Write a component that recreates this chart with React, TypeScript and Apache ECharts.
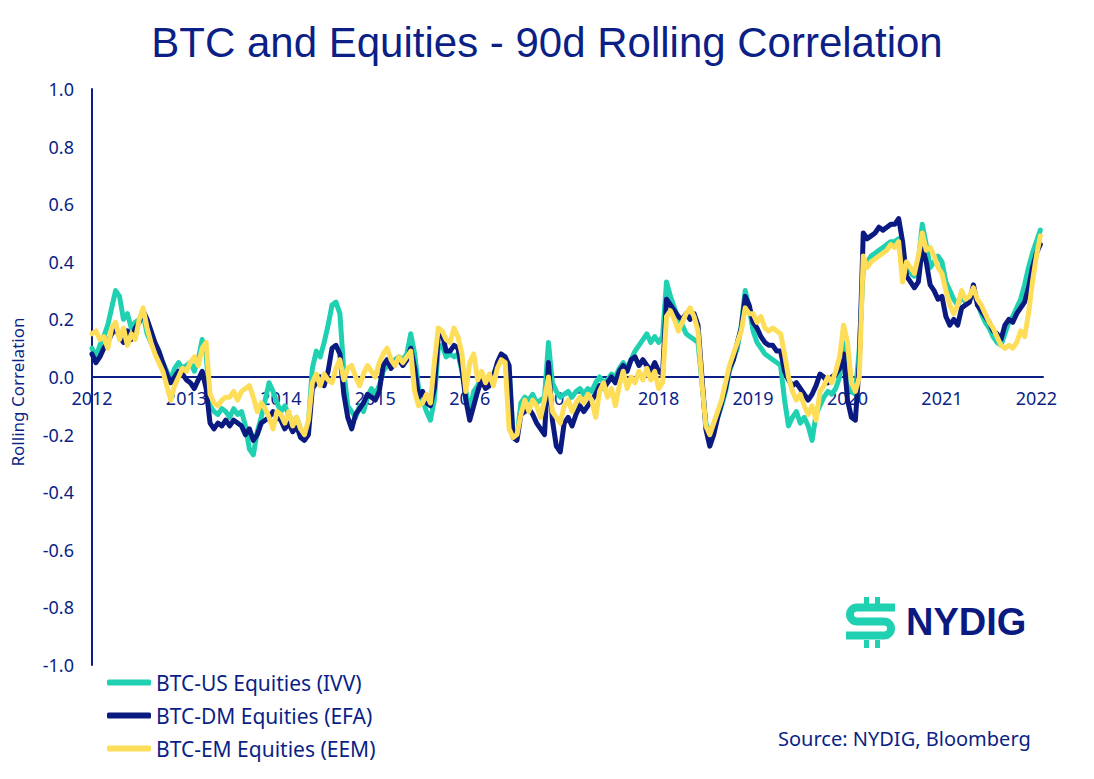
import React, { useEffect, useRef } from "react";
import * as echarts from "echarts";

const NAVY = "#0b1f86";
const TEAL = "#1fd0b1";
const DNAVY = "#0a1a80";
const YELLOW = "#fedd58";

const TITLE = "BTC and Equities - 90d Rolling Correlation";
const SERIES_NAMES = ["BTC-US Equities (IVV)", "BTC-DM Equities (EFA)", "BTC-EM Equities (EEM)"];
const YEAR_LABELS = [2012, 2013, 2014, 2015, 2016, 2017, 2018, 2019, 2020, 2021, 2022];
const START_YEAR = 2012;
const STEPS_PER_YEAR = 24; // semi-monthly observations

const usEquities = [
  // 2012
  0.10, 0.07, 0.11, 0.14, 0.18, 0.24, 0.30, 0.28, 0.20, 0.22, 0.17, 0.19, 0.20, 0.22, 0.15, 0.12, 0.09, 0.07, 0.05, 0.02, -0.01, 0.03, 0.05, 0.03,
  // 2013
  0.04, 0.05, 0.02, 0.06, 0.13, 0.08, -0.10, -0.12, -0.13, -0.11, -0.12, -0.14, -0.11, -0.13, -0.12, -0.17, -0.25, -0.27, -0.19, -0.14, -0.08, -0.02, -0.05, -0.09,
  // 2014
  -0.12, -0.10, -0.13, -0.16, -0.14, -0.18, -0.20, -0.16, 0.03, 0.09, 0.07, 0.12, 0.18, 0.25, 0.26, 0.22, 0.02, -0.10, -0.12, -0.14, -0.10, -0.12, -0.07, -0.04,
  // 2015
  -0.06, -0.03, 0.02, 0.04, 0.05, 0.06, 0.07, 0.06, 0.08, 0.15, 0.08, -0.04, -0.08, -0.12, -0.15, -0.08, 0.10, 0.11, 0.07, 0.08, 0.07, 0.08, 0.02, -0.05,
  // 2016
  -0.12, -0.05, -0.03, 0.00, -0.03, -0.02, 0.01, 0.04, 0.06, 0.05, 0.02, -0.20, -0.21, -0.09, -0.07, -0.08, -0.06, -0.09, -0.08, -0.07, 0.12, -0.02, -0.05, -0.07,
  // 2017
  -0.06, -0.05, -0.07, -0.05, -0.04, -0.06, -0.04, -0.05, -0.02, 0.00, -0.02, -0.01, 0.01, 0.00, 0.03, 0.05, 0.03, 0.06, 0.09, 0.11, 0.13, 0.15, 0.12, 0.14,
  // 2018
  0.12, 0.14, 0.33, 0.28, 0.24, 0.20, 0.18, 0.15, 0.14, 0.13, 0.12, -0.02, -0.16, -0.20, -0.18, -0.14, -0.10, -0.05, 0.02, 0.06, 0.10, 0.18, 0.30, 0.24,
  // 2019
  0.16, 0.12, 0.10, 0.08, 0.07, 0.06, 0.05, 0.04, -0.08, -0.17, -0.14, -0.12, -0.16, -0.14, -0.17, -0.22, -0.13, -0.10, -0.07, -0.05, -0.06, -0.04, 0.00, 0.12,
  // 2020
  0.05, -0.05, -0.06, 0.10, 0.38, 0.40, 0.42, 0.43, 0.44, 0.45, 0.46, 0.47, 0.47, 0.48, 0.40, 0.38, 0.36, 0.35, 0.40, 0.53, 0.46, 0.38, 0.40, 0.42,
  // 2021
  0.40, 0.33, 0.30, 0.27, 0.25, 0.28, 0.26, 0.27, 0.29, 0.26, 0.22, 0.19, 0.17, 0.14, 0.12, 0.11, 0.15, 0.19, 0.21, 0.24, 0.27, 0.32, 0.38, 0.43,
  // 2022
  0.47, 0.51,
];

const dmEquities = [
  // 2012
  0.08, 0.05, 0.07, 0.10, 0.12, 0.15, 0.17, 0.14, 0.12, 0.16, 0.13, 0.17, 0.19, 0.23, 0.20, 0.16, 0.12, 0.09, 0.05, 0.01, -0.02, 0.00, 0.02, 0.01,
  // 2013
  -0.01, -0.02, -0.04, -0.01, 0.02, -0.04, -0.16, -0.18, -0.16, -0.17, -0.15, -0.17, -0.15, -0.16, -0.17, -0.20, -0.18, -0.22, -0.20, -0.16, -0.15, -0.14, -0.12, -0.14,
  // 2014
  -0.15, -0.18, -0.16, -0.19, -0.17, -0.21, -0.22, -0.20, -0.04, -0.02, 0.00, -0.03, 0.02, 0.10, 0.11, 0.08, -0.06, -0.14, -0.18, -0.13, -0.11, -0.09, -0.06, -0.07,
  // 2015
  -0.08, -0.05, 0.04, 0.06, 0.03, 0.05, 0.06, 0.04, 0.06, 0.10, 0.03, -0.07, -0.05, -0.09, -0.10, -0.04, 0.14, 0.15, 0.09, 0.09, 0.11, 0.10, 0.03, -0.08,
  // 2016
  -0.15, -0.10, -0.05, -0.01, -0.04, -0.03, 0.00, 0.05, 0.08, 0.07, 0.04, -0.21, -0.22, -0.13, -0.12, -0.11, -0.13, -0.16, -0.18, -0.20, 0.05, -0.15, -0.24, -0.26,
  // 2017
  -0.16, -0.14, -0.17, -0.13, -0.10, -0.12, -0.10, -0.08, -0.06, -0.03, -0.04, -0.02, 0.00, -0.02, 0.02, 0.04, 0.02, 0.06, 0.07, 0.04, 0.06, 0.04, 0.02, 0.05,
  // 2018
  0.02, 0.01, 0.27, 0.25, 0.23, 0.21, 0.20, 0.22, 0.20, 0.22, 0.18, 0.00, -0.18, -0.24, -0.20, -0.14, -0.09, -0.04, 0.03, 0.06, 0.12, 0.17, 0.28, 0.25,
  // 2019
  0.19, 0.17, 0.14, 0.12, 0.11, 0.11, 0.09, 0.09, 0.02, -0.01, -0.03, -0.02, -0.04, -0.06, -0.08, -0.06, -0.03, 0.01, 0.00, -0.02, 0.00, 0.01, 0.03, 0.08,
  // 2020
  -0.08, -0.14, -0.15, 0.05, 0.50, 0.48, 0.49, 0.50, 0.52, 0.51, 0.52, 0.53, 0.53, 0.55, 0.47, 0.35, 0.33, 0.31, 0.33, 0.45, 0.40, 0.32, 0.30, 0.27,
  // 2021
  0.28, 0.21, 0.18, 0.20, 0.18, 0.24, 0.25, 0.26, 0.32, 0.25, 0.23, 0.21, 0.19, 0.16, 0.15, 0.13, 0.18, 0.20, 0.19, 0.22, 0.24, 0.26, 0.31, 0.38,
  // 2022
  0.43, 0.46,
];

const emEquities = [
  // 2012
  0.15, 0.16, 0.13, 0.14, 0.10, 0.17, 0.19, 0.13, 0.17, 0.11, 0.15, 0.13, 0.20, 0.24, 0.17, 0.12, 0.08, 0.05, 0.02, -0.03, -0.08, -0.03, 0.00, 0.03,
  // 2013
  0.02, 0.05, 0.07, 0.04, 0.10, 0.12, -0.06, -0.09, -0.10, -0.08, -0.07, -0.07, -0.05, -0.08, -0.05, -0.04, -0.03, -0.07, -0.12, -0.09, -0.11, -0.14, -0.18, -0.12,
  // 2014
  -0.13, -0.16, -0.12, -0.17, -0.14, -0.18, -0.20, -0.15, -0.02, 0.01, -0.03, 0.01, -0.01, -0.02, 0.03, 0.06, -0.01, 0.03, 0.04, 0.00, -0.03, 0.01, 0.04, 0.02,
  // 2015
  0.00, 0.05, 0.08, 0.10, 0.06, 0.04, 0.07, 0.05, 0.07, 0.09, -0.05, -0.10, -0.09, -0.06, -0.09, 0.05, 0.17, 0.16, 0.13, 0.12, 0.17, 0.14, 0.08, -0.05,
  // 2016
  0.05, 0.08, -0.01, 0.02, -0.02, 0.01, -0.03, 0.03, 0.06, 0.05, -0.18, -0.21, -0.20, -0.13, -0.08, -0.12, -0.08, -0.10, -0.14, -0.08, 0.00, -0.12, -0.14, -0.16,
  // 2017
  -0.10, -0.08, -0.12, -0.09, -0.07, -0.09, -0.06, -0.08, -0.14, -0.05, -0.02, -0.07, -0.04, -0.10, -0.03, 0.02, -0.04, 0.00, -0.02, 0.02, -0.01, 0.03, -0.01, 0.02,
  // 2018
  -0.04, -0.02, 0.21, 0.23, 0.20, 0.16, 0.19, 0.22, 0.24, 0.21, 0.16, -0.02, -0.17, -0.20, -0.16, -0.12, -0.08, -0.02, 0.04, 0.08, 0.12, 0.16, 0.24, 0.22,
  // 2019
  0.22, 0.19, 0.21, 0.17, 0.16, 0.17, 0.16, 0.15, 0.08, 0.00, -0.05, -0.08, -0.06, -0.10, -0.13, -0.10, -0.15, -0.05, -0.03, 0.00, -0.02, 0.02, 0.07, 0.18,
  // 2020
  0.12, -0.02, -0.05, 0.00, 0.42, 0.38, 0.40, 0.41, 0.42, 0.43, 0.44, 0.46, 0.45, 0.47, 0.33, 0.40, 0.38, 0.36, 0.42, 0.50, 0.44, 0.45, 0.42, 0.38,
  // 2021
  0.36, 0.30, 0.25, 0.22, 0.25, 0.30, 0.27, 0.28, 0.31, 0.27, 0.25, 0.22, 0.19, 0.17, 0.14, 0.11, 0.10, 0.11, 0.10, 0.12, 0.16, 0.14, 0.22, 0.33,
  // 2022
  0.42, 0.49,
];

const LABEL_FONT = "'Noto Sans', sans-serif";

function toPoints(values: number[]) {
  return values.map((v, i) => [START_YEAR + i / STEPS_PER_YEAR, v]);
}

const logoPath =
  "M49,10.5 L11,10.5 A7,7 0 0 0 11,24.5 L38,24.5 A7,7 0 0 1 38,38.5 L0,38.5";

export default function App() {
  const ref = useRef<HTMLDivElement | null>(null);

  useEffect(() => {
    if (!ref.current) return;
    try {
      echarts.graphic.registerShape("logo", echarts.graphic.extendPath(logoPath, {}));
    } catch (e) {
      // already registered
    }
    const chart = echarts.init(ref.current, undefined, { renderer: "svg" });
    const colors = [TEAL, DNAVY, YELLOW];
    const datasets = [usEquities, dmEquities, emEquities];

    chart.setOption({
      animation: false,
      backgroundColor: "#ffffff",
      title: {
        text: TITLE,
        left: "center",
        top: 16,
        textStyle: {
          fontFamily: "'Liberation Sans', Arial, sans-serif",
          fontSize: 42,
          fontWeight: "normal",
          color: NAVY,
        },
      },
      grid: { left: 92, right: 51, top: 89, bottom: 114, containLabel: false },
      legend: {
        orient: "vertical",
        left: 102,
        top: 666,
        itemWidth: 44,
        itemHeight: 6,
        itemGap: 10,
        icon: "roundRect",
        data: SERIES_NAMES,
        textStyle: { color: NAVY, fontSize: 21, fontFamily: LABEL_FONT, lineHeight: 23 },
      },
      xAxis: {
        type: "value",
        position: "bottom",
        offset: -288,
        min: START_YEAR,
        max: 2022.07,
        axisLine: { show: true, onZero: false, lineStyle: { color: NAVY, width: 2 } },
        axisTick: { show: false },
        splitLine: { show: false },
        axisLabel: {
          customValues: YEAR_LABELS,
          formatter: (v: number) => String(Math.round(v)),
          color: NAVY,
          fontSize: 18,
          fontFamily: LABEL_FONT,
          margin: 12,
        },
      },
      yAxis: {
        type: "value",
        min: -1,
        max: 1,
        interval: 0.2,
        axisLine: { show: true, onZero: false, lineStyle: { color: NAVY, width: 2 } },
        axisTick: { show: false },
        splitLine: { show: false },
        axisLabel: {
          formatter: (v: number) => v.toFixed(1),
          color: NAVY,
          fontSize: 18,
          fontFamily: LABEL_FONT,
          margin: 18,
        },
      },
      series: SERIES_NAMES.map((name, k) => ({
        name,
        type: "line",
        data: toPoints(datasets[k]),
        showSymbol: false,
        symbol: "none",
        color: colors[k],
        lineStyle: { color: colors[k], width: 5, cap: "round", join: "round" },
        z: 2 + k,
      })),
      graphic: [
        {
          type: "text",
          x: 17,
          y: 392,
          rotation: Math.PI / 2,
          style: {
            text: "Rolling Correlation",
            fill: NAVY,
            fontSize: 17,
            fontFamily: LABEL_FONT,
            textAlign: "center",
            textVerticalAlign: "middle",
          },
        },
        {
          type: "text",
          x: 778,
          y: 738,
          style: {
            text: "Source: NYDIG, Bloomberg",
            fill: NAVY,
            fontSize: 20,
            fontFamily: LABEL_FONT,
            textAlign: "left",
            textVerticalAlign: "middle",
          },
        },
        {
          type: "logo",
          x: 846,
          y: 597,
          style: { fill: "none", stroke: TEAL, lineWidth: 8 },
        },
        { type: "rect", shape: { x: 864, y: 597, width: 5, height: 8 }, style: { fill: TEAL } },
        { type: "rect", shape: { x: 875, y: 597, width: 5, height: 8 }, style: { fill: TEAL } },
        { type: "rect", shape: { x: 864, y: 640, width: 5, height: 8 }, style: { fill: TEAL } },
        { type: "rect", shape: { x: 875, y: 640, width: 5, height: 8 }, style: { fill: TEAL } },
        {
          type: "text",
          x: 906,
          y: 622,
          style: {
            text: "NYDIG",
            fill: DNAVY,
            fontSize: 38,
            fontWeight: "bold",
            fontFamily: "'Liberation Sans', Arial, sans-serif",
            textAlign: "left",
            textVerticalAlign: "middle",
          },
        },
      ],
    });

    return () => {
      chart.dispose();
    };
  }, []);

  return (
    <div
      ref={ref}
      style={{ position: "absolute", left: 0, top: 0, width: 1094, height: 779, background: "#fff" }}
    />
  );
}
